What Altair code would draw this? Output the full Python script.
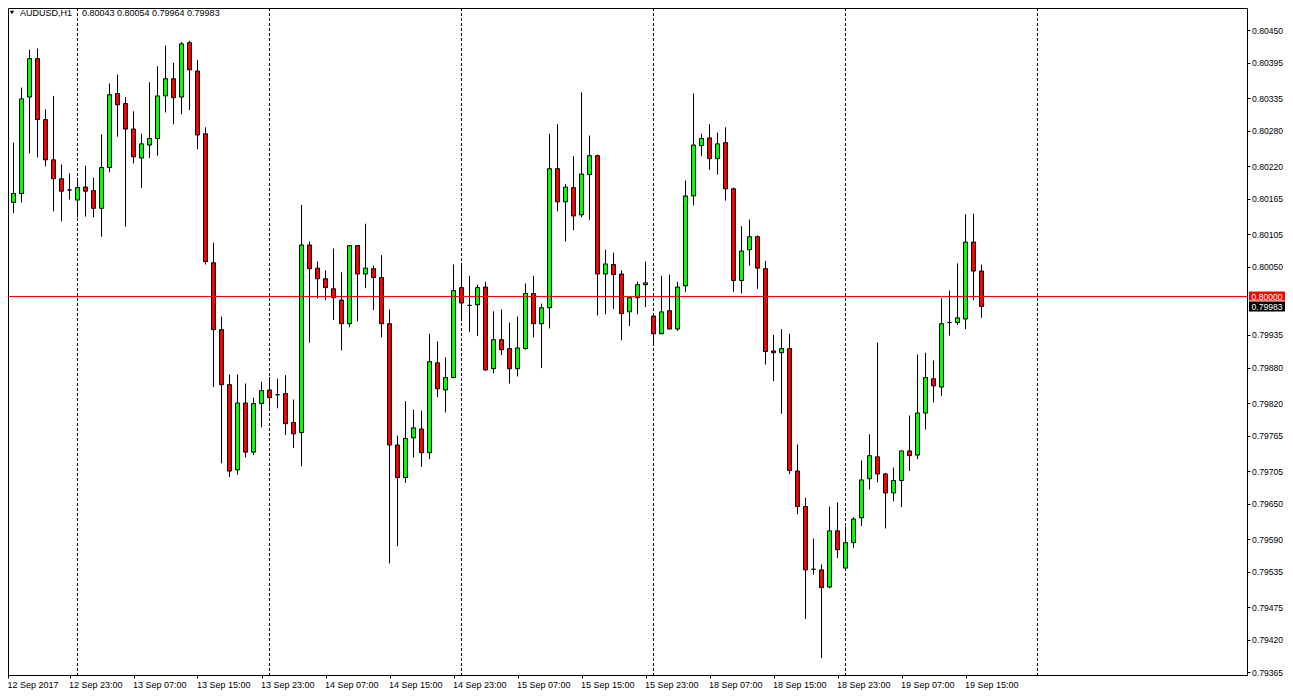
import altair as alt
import pandas as pd
import json

# ---- data: AUDUSD H1, 123 bars (12 Sep 15:00 .. 19 Sep 17:00) ----
opens = [0.80231, 0.80159, 0.80174, 0.80337, 0.80402, 0.80299, 0.80231, 0.80199, 0.80180, 0.80163,
         0.80185, 0.80179, 0.80149, 0.80218, 0.80343, 0.80326, 0.80283, 0.80234, 0.80256, 0.80267,
         0.80339, 0.80368, 0.80337, 0.80429, 0.80381, 0.80275, 0.80057, 0.79944, 0.79851, 0.79707,
         0.79820, 0.79737, 0.79819, 0.79842, 0.79834, 0.79836, 0.79787, 0.79770, 0.80087, 0.80048,
         0.80030, 0.80013, 0.79994, 0.79954, 0.80086, 0.80038, 0.80047, 0.80032, 0.79954, 0.79749,
         0.79694, 0.79761, 0.79776, 0.79736, 0.79888, 0.79842, 0.79863, 0.80015, 0.79985, 0.79986,
         0.80016, 0.79878, 0.79927, 0.79912, 0.79878, 0.79912, 0.80005, 0.79954, 0.79981, 0.80216,
         0.80160, 0.80184, 0.80138, 0.80206, 0.80238, 0.80038, 0.80054, 0.80038, 0.79974, 0.79998,
         0.80020, 0.79967, 0.79937, 0.79976, 0.79945, 0.80018, 0.80170, 0.80255, 0.80268, 0.80233,
         0.80260, 0.80182, 0.80027, 0.80079, 0.80101, 0.80047, 0.79908, 0.79905, 0.79912, 0.79705,
         0.79645, 0.79539, 0.79538, 0.79509, 0.79604, 0.79541, 0.79584, 0.79626, 0.79692, 0.79729,
         0.79700, 0.79668, 0.79689, 0.79739, 0.79732, 0.79803, 0.79861, 0.79847, 0.79956, 0.79956,
         0.79962, 0.80092, 0.80043]
highs = [0.80377, 0.80260, 0.80353, 0.80417, 0.80419, 0.80316, 0.80339, 0.80223, 0.80208, 0.80201,
         0.80221, 0.80201, 0.80274, 0.80360, 0.80375, 0.80337, 0.80313, 0.80275, 0.80362, 0.80389,
         0.80424, 0.80395, 0.80430, 0.80432, 0.80400, 0.80286, 0.80091, 0.79966, 0.79868, 0.79868,
         0.79853, 0.79829, 0.79856, 0.79864, 0.79861, 0.79867, 0.79826, 0.80155, 0.80093, 0.80059,
         0.80044, 0.80081, 0.80041, 0.80086, 0.80086, 0.80123, 0.80052, 0.80070, 0.79978, 0.79765,
         0.79823, 0.79809, 0.79807, 0.79937, 0.79924, 0.79897, 0.80054, 0.80057, 0.80035, 0.80020,
         0.80025, 0.79975, 0.79978, 0.79956, 0.79966, 0.80022, 0.80035, 0.79988, 0.80275, 0.80291,
         0.80190, 0.80237, 0.80345, 0.80272, 0.80240, 0.80079, 0.80074, 0.80044, 0.79998, 0.80025,
         0.80059, 0.79970, 0.80035, 0.80037, 0.80025, 0.80196, 0.80343, 0.80275, 0.80291, 0.80277,
         0.80286, 0.80184, 0.80119, 0.80130, 0.80103, 0.80060, 0.79935, 0.79945, 0.79937, 0.79750,
         0.79660, 0.79591, 0.79547, 0.79645, 0.79652, 0.79611, 0.79627, 0.79723, 0.79767, 0.79922,
         0.79702, 0.79711, 0.79739, 0.79799, 0.79902, 0.79905, 0.79892, 0.79997, 0.80010, 0.80056,
         0.80139, 0.80140, 0.80054]
lows = [0.80141, 0.80141, 0.80159, 0.80242, 0.80235, 0.80220, 0.80144, 0.80127, 0.80164, 0.80134,
        0.80135, 0.80134, 0.80101, 0.80210, 0.80270, 0.80118, 0.80225, 0.80183, 0.80234, 0.80238,
        0.80311, 0.80291, 0.80308, 0.80315, 0.80249, 0.80054, 0.79847, 0.79718, 0.79695, 0.79699,
        0.79728, 0.79732, 0.79779, 0.79812, 0.79811, 0.79766, 0.79744, 0.79713, 0.79922, 0.79997,
        0.79994, 0.79960, 0.79909, 0.79948, 0.79958, 0.80014, 0.79977, 0.79931, 0.79549, 0.79578,
        0.79685, 0.79728, 0.79712, 0.79725, 0.79830, 0.79804, 0.79863, 0.79958, 0.79940, 0.79933,
        0.79874, 0.79870, 0.79901, 0.79853, 0.79865, 0.79910, 0.79931, 0.79879, 0.79946, 0.80144,
        0.80093, 0.80112, 0.80134, 0.80129, 0.79968, 0.79970, 0.79979, 0.79926, 0.79950, 0.79970,
        0.79982, 0.79917, 0.79937, 0.79945, 0.79942, 0.80008, 0.80154, 0.80237, 0.80214, 0.80206,
        0.80162, 0.80008, 0.80005, 0.80052, 0.80013, 0.79885, 0.79857, 0.79802, 0.79700, 0.79632,
        0.79455, 0.79530, 0.79389, 0.79507, 0.79558, 0.79536, 0.79575, 0.79612, 0.79674, 0.79686,
        0.79608, 0.79654, 0.79644, 0.79705, 0.79725, 0.79775, 0.79821, 0.79832, 0.79934, 0.79952,
        0.79945, 0.79994, 0.79964]
closes = [0.80159, 0.80174, 0.80334, 0.80402, 0.80299, 0.80231, 0.80199, 0.80178, 0.80180, 0.80184,
          0.80178, 0.80149, 0.80218, 0.80341, 0.80324, 0.80283, 0.80236, 0.80258, 0.80267, 0.80339,
          0.80368, 0.80336, 0.80427, 0.80383, 0.80273, 0.80059, 0.79944, 0.79851, 0.79705, 0.79820,
          0.79737, 0.79819, 0.79841, 0.79829, 0.79834, 0.79785, 0.79768, 0.80087, 0.80047, 0.80030,
          0.80015, 0.79998, 0.79954, 0.80086, 0.80038, 0.80048, 0.80032, 0.79954, 0.79749, 0.79694,
          0.79760, 0.79778, 0.79736, 0.79890, 0.79844, 0.79863, 0.80010, 0.79989, 0.79985, 0.80015,
          0.79876, 0.79927, 0.79910, 0.79878, 0.79913, 0.80005, 0.79954, 0.79981, 0.80216, 0.80160,
          0.80185, 0.80136, 0.80207, 0.80238, 0.80038, 0.80055, 0.80037, 0.79971, 0.79998, 0.80020,
          0.80023, 0.79937, 0.79974, 0.79945, 0.80016, 0.80170, 0.80256, 0.80267, 0.80233, 0.80258,
          0.80182, 0.80027, 0.80077, 0.80101, 0.80048, 0.79907, 0.79905, 0.79912, 0.79706, 0.79645,
          0.79538, 0.79539, 0.79508, 0.79604, 0.79572, 0.79584, 0.79624, 0.79690, 0.79731, 0.79700,
          0.79668, 0.79689, 0.79739, 0.79731, 0.79803, 0.79863, 0.79849, 0.79954, 0.79956, 0.79964,
          0.80092, 0.80043, 0.79983]

x_label_pos = [0.3125, 8, 16, 24, 32, 40, 48, 56, 64, 72, 80, 88, 96, 104, 112, 120]
x_labels = ["12 Sep 2017", "12 Sep 23:00", "13 Sep 07:00", "13 Sep 15:00", "13 Sep 23:00",
            "14 Sep 07:00", "14 Sep 15:00", "14 Sep 23:00", "15 Sep 07:00", "15 Sep 15:00",
            "15 Sep 23:00", "18 Sep 07:00", "18 Sep 15:00", "18 Sep 23:00", "19 Sep 07:00",
            "19 Sep 15:00"]
day_breaks = [9, 33, 57, 81, 105, 129]
price_ticks = [0.80450, 0.80395, 0.80335, 0.80280, 0.80220, 0.80165, 0.80105, 0.80050,
               0.79935, 0.79880, 0.79820, 0.79765, 0.79705, 0.79650, 0.79590, 0.79535,
               0.79475, 0.79420, 0.79365]
level = 0.80000
symbol = "AUDUSD,H1"

FONT = "Liberation Sans"
FS = 9
FS_R = 8.6

n = len(opens)
dirs = ["up" if c > o else ("down" if c < o else "flat") for o, c in zip(opens, closes)]
df = pd.DataFrame({"i": list(range(n)), "open": opens, "high": highs, "low": lows,
                   "close": closes, "dir": dirs})

W, H = 1239, 667
PR, PB = 38, 15
xscale = alt.Scale(domain=[0.3125, 155.1875], nice=False, zero=False, padding=0)
yscale = alt.Scale(domain=[0.79360335, 0.80487565], nice=False, zero=False, padding=0)

label_expr = json.dumps(x_labels) + "[round(datum.value / 8)]"
xaxis = alt.Axis(values=x_label_pos, labelExpr=label_expr, orient="bottom", grid=False,
                 domain=False, ticks=True, tickSize=3, tickColor="black", labelAlign="left",
                 labelBaseline="top", labelPadding=2, labelOffset=-1, labelFont=FONT,
                 labelFontSize=FS, labelColor="black", labelOverlap=False, labelBound=False,
                 labelFlush=False, title=None)
yaxis = alt.Axis(values=price_ticks, format=".5f", orient="right", grid=False, domain=False,
                 tickSize=3, tickColor="black", labelPadding=1.5, labelFont=FONT,
                 labelFontSize=FS_R, labelColor="black", labelBaseline="middle",
                 labelOverlap=False, labelBound=False, labelFlush=False, title=None)


def X(field):
    return alt.X(field, scale=xscale, axis=xaxis)


def Y(field):
    return alt.Y(field, scale=yscale, axis=yaxis)


base = alt.Chart(df)

separators = alt.Chart(pd.DataFrame({"i": day_breaks})).mark_rule(
    color="black", strokeWidth=1, strokeDash=[3, 2], clip=True
).encode(x=X("i:Q"))

wicks = base.mark_rule(color="black", strokeWidth=1, clip=True).encode(
    x=X("i:Q"), y=Y("low:Q"), y2="high:Q",
)

bodies = base.mark_bar(size=4, stroke="black", strokeWidth=1, clip=True).encode(
    x=X("i:Q"), y=Y("open:Q"), y2="close:Q",
    color=alt.Color("dir:N", scale=alt.Scale(domain=["up", "down", "flat"],
                                             range=["#00ff00", "#ff0000", "#000000"]),
                    legend=None),
)

hline = alt.Chart(pd.DataFrame({"open": [level]})).mark_rule(color="#ff0000", strokeWidth=1).encode(
    y=Y("open:Q")
)

last_close = closes[-1]
tags = pd.DataFrame({"open": [level, last_close],
                     "txt": [f"{level:.5f}", f"{last_close:.5f}"]})
tag_box_red = alt.Chart(tags.iloc[[0]]).mark_rect(color="#ff0000", yOffset=-5, y2Offset=4,
                                                  clip=False).encode(
    x=alt.value(W + 2), x2=alt.value(W + PR), y=Y("open:Q"), y2="open:Q")
tag_box_blk = alt.Chart(tags.iloc[[1]]).mark_rect(color="#000000", yOffset=-5, y2Offset=5,
                                                  clip=False).encode(
    x=alt.value(W + 2), x2=alt.value(W + PR), y=Y("open:Q"), y2="open:Q")
tag_txt = alt.Chart(tags).mark_text(color="white", align="left", baseline="middle", font=FONT,
                                    fontSize=FS_R, clip=False).encode(
    x=alt.value(W + 4.5), y=Y("open:Q"), text="txt:N")

hdr = pd.DataFrame({"t": [symbol,
                          " ".join(f"{v:.5f}" for v in (opens[-1], highs[-1], lows[-1], closes[-1]))]})
header_sym = alt.Chart(hdr.iloc[[0]]).mark_text(align="left", baseline="middle", font=FONT,
                                                fontSize=FS, color="#000000").encode(
    x=alt.value(12), y=alt.value(5), text="t:N")
header_vals = alt.Chart(hdr.iloc[[1]]).mark_text(align="left", baseline="middle", font=FONT,
                                                 fontSize=FS, color="#000000").encode(
    x=alt.value(74), y=alt.value(5), text="t:N")
tri = alt.Chart(hdr.iloc[[0]]).mark_point(shape="triangle-down", filled=True, size=18,
                                          color="black", opacity=1).encode(
    x=alt.value(4), y=alt.value(4.5))

chart = alt.layer(
    separators, wicks, bodies, hline, tag_box_red, tag_box_blk, tag_txt,
    header_sym, header_vals, tri
).properties(
    width=W, height=H,
    padding={"left": 0, "top": 0, "right": PR, "bottom": PB},
    autosize=alt.AutoSizeParams(type="none"),
    background="white",
).configure_view(stroke="black", strokeWidth=1).configure_axis(labelOverlap=False)

chart.save("out.html", embed_options={"renderer": "svg", "actions": False})
